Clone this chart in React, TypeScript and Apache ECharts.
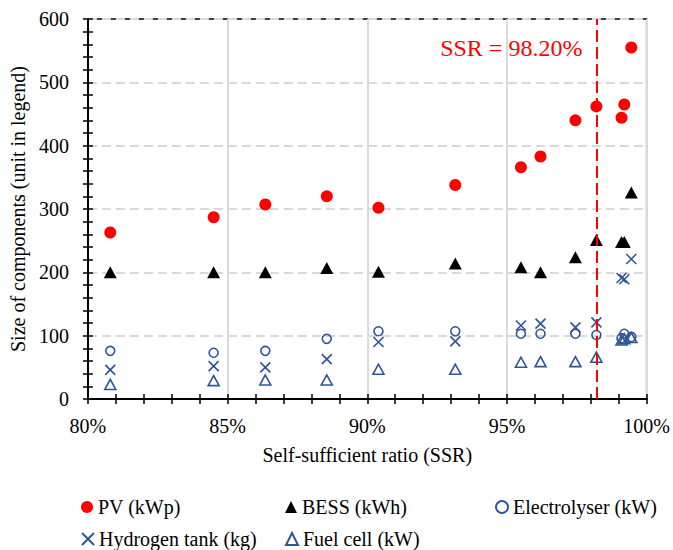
import React, { useEffect, useRef } from "react";
import * as echarts from "echarts";

const ssr = [80.8, 84.5, 86.35, 88.55, 90.4, 93.15, 95.5, 96.2, 97.45, 98.2, 99.1, 99.2, 99.45];
const pv = [263, 287, 307, 320, 302, 338, 366, 383, 440, 462, 444, 465, 555];
const bess = [200, 200, 200, 207, 201, 214, 208, 200, 224, 251, 248, 248, 326];
const electrolyser = [76, 73, 76, 95, 107, 107, 103, 103, 103, 101, 96, 103, 98];
const hydrogenTank = [46, 52, 50, 63, 90, 91, 116, 119, 113, 121, 191, 189, 221];
const fuelCell = [23, 29, 30, 30, 47, 47, 58, 59, 59, 66, 93, 95, 97];

const seriesNames = ["PV (kWp)", "BESS (kWh)", "Electrolyser (kW)", "Hydrogen tank (kg)", "Fuel cell (kW)"];
const ssrSelected = 98.2;
const ssrLabel = "SSR = 98.20%";
const xTicks = { min: 80, max: 100, interval: 5 };
const yTicks = { min: 0, max: 600, interval: 100 };

const FONT = "Liberation Serif, Times New Roman, serif";
const BLUE = "#2f5597";
const RED = "#ff0000";

const toPairs = (ys: number[]) => ssr.map((x, i) => [x, ys[i]]);

export default function App() {
  const ref = useRef<HTMLDivElement>(null);
  useEffect(() => {
    if (!ref.current) return;
    const chart = echarts.init(ref.current, null, { renderer: "svg" });

    const baseX = {
      type: "value",
      min: xTicks.min,
      max: xTicks.max,
      interval: xTicks.interval,
      position: "bottom",
    };
    const baseY = {
      type: "value",
      min: yTicks.min,
      max: yTicks.max,
      interval: yTicks.interval,
      position: "left",
    };

    const legendPos = [
      { left: 81, top: 497 },
      { left: 285, top: 497 },
      { left: 495, top: 497 },
      { left: 81, top: 529 },
      { left: 285, top: 529 },
    ];

    chart.setOption({
      animation: false,
      textStyle: { fontFamily: FONT },
      grid: {
        left: 87,
        right: 26,
        top: 19,
        bottom: 151,
        show: true,
        borderColor: "#000",
        borderWidth: 1.5,
        backgroundColor: "transparent",
      },
      xAxis: [
        {
          ...baseX,
          name: "Self-sufficient ratio (SSR)",
          nameLocation: "middle",
          nameGap: 46,
          nameTextStyle: { fontFamily: FONT, fontSize: 20, color: "#000" },
          axisLine: { show: true, lineStyle: { color: "#000", width: 2 } },
          axisTick: { show: true, inside: false, length: 5, lineStyle: { color: "#000", width: 1.5 } },
          minorTick: { show: true, splitNumber: 5, length: 5, lineStyle: { color: "#000", width: 1.5 } },
          axisLabel: {
            formatter: (v: number) => `${v}%`,
            fontFamily: FONT,
            fontSize: 20,
            color: "#000",
            margin: 17,
          },
          splitLine: { show: true, lineStyle: { color: "#d9d9d9", width: 2, type: "solid" } },
        },
        {
          ...baseX,
          axisLine: { show: false },
          axisTick: { show: true, inside: true, length: 5, lineStyle: { color: "#000", width: 1.5 } },
          minorTick: { show: true, splitNumber: 5, length: 5, lineStyle: { color: "#000", width: 1.5 } },
          axisLabel: { show: false },
          splitLine: { show: false },
        },
      ],
      yAxis: [
        {
          ...baseY,
          name: "Size of components (unit in legend)",
          nameLocation: "middle",
          nameGap: 51,
          nameTextStyle: { fontFamily: FONT, fontSize: 20, color: "#000" },
          axisLine: { show: true, lineStyle: { color: "#000", width: 2 } },
          axisTick: { show: true, inside: false, length: 5, lineStyle: { color: "#000", width: 1.5 } },
          minorTick: { show: true, splitNumber: 5, length: 5, lineStyle: { color: "#000", width: 1.5 } },
          axisLabel: { fontFamily: FONT, fontSize: 20, color: "#000", margin: 19 },
          splitLine: { show: true, lineStyle: { color: "#d9d9d9", width: 2, type: [9, 5] } },
        },
        {
          ...baseY,
          axisLine: { show: false },
          axisTick: { show: true, inside: true, length: 5, lineStyle: { color: "#000", width: 1.5 } },
          minorTick: { show: true, splitNumber: 5, length: 5, lineStyle: { color: "#000", width: 1.5 } },
          axisLabel: { show: false },
          splitLine: { show: false },
        },
      ],
      legend: seriesNames.map((n, i) => ({
        data: [n],
        left: legendPos[i].left,
        top: legendPos[i].top,
        padding: 0,
        itemWidth: 12,
        itemHeight: 12,
        itemGap: 0,
        selectedMode: false,
        textStyle: { fontFamily: FONT, fontSize: 20, color: "#000" },
      })),
      series: [
        {
          name: seriesNames[0],
          type: "scatter",
          data: toPairs(pv),
          symbol: "circle",
          symbolSize: 12,
          itemStyle: { color: RED, opacity: 1 },
        },
        {
          name: seriesNames[1],
          type: "scatter",
          data: toPairs(bess),
          symbol: "triangle",
          symbolSize: [13, 12],
          itemStyle: { color: "#000", opacity: 1 },
        },
        {
          name: seriesNames[2],
          type: "scatter",
          data: toPairs(electrolyser),
          symbol: "circle",
          symbolSize: 9,
          itemStyle: { color: "rgba(0,0,0,0)", borderColor: BLUE, borderWidth: 1.6, opacity: 1 },
        },
        {
          name: seriesNames[3],
          type: "scatter",
          data: toPairs(hydrogenTank),
          symbol: "path://M0,0L10,10M10,0L0,10",
          symbolSize: 10,
          itemStyle: { color: "rgba(0,0,0,0)", borderColor: BLUE, borderWidth: 1.6, opacity: 1 },
        },
        {
          name: seriesNames[4],
          type: "scatter",
          data: toPairs(fuelCell),
          symbol: "triangle",
          symbolSize: [11, 10],
          itemStyle: { color: "rgba(0,0,0,0)", borderColor: BLUE, borderWidth: 1.6, opacity: 1 },
          markLine: {
            silent: true,
            symbol: ["none", "none"],
            label: { show: false },
            lineStyle: { color: RED, width: 2, type: [12, 5] },
            data: [{ xAxis: ssrSelected }],
          },
          markPoint: {
            silent: true,
            symbol: "circle",
            symbolSize: 0,
            itemStyle: { color: "rgba(0,0,0,0)" },
            label: {
              show: true,
              position: "left",
              distance: 14,
              formatter: ssrLabel,
              fontFamily: FONT,
              fontSize: 24,
              color: RED,
            },
            data: [{ coord: [ssrSelected, 554] }],
          },
        },
      ],
    });
    return () => chart.dispose();
  }, []);

  return <div ref={ref} style={{ width: 673, height: 550, position: "absolute", left: 0, top: 0 }} />;
}
